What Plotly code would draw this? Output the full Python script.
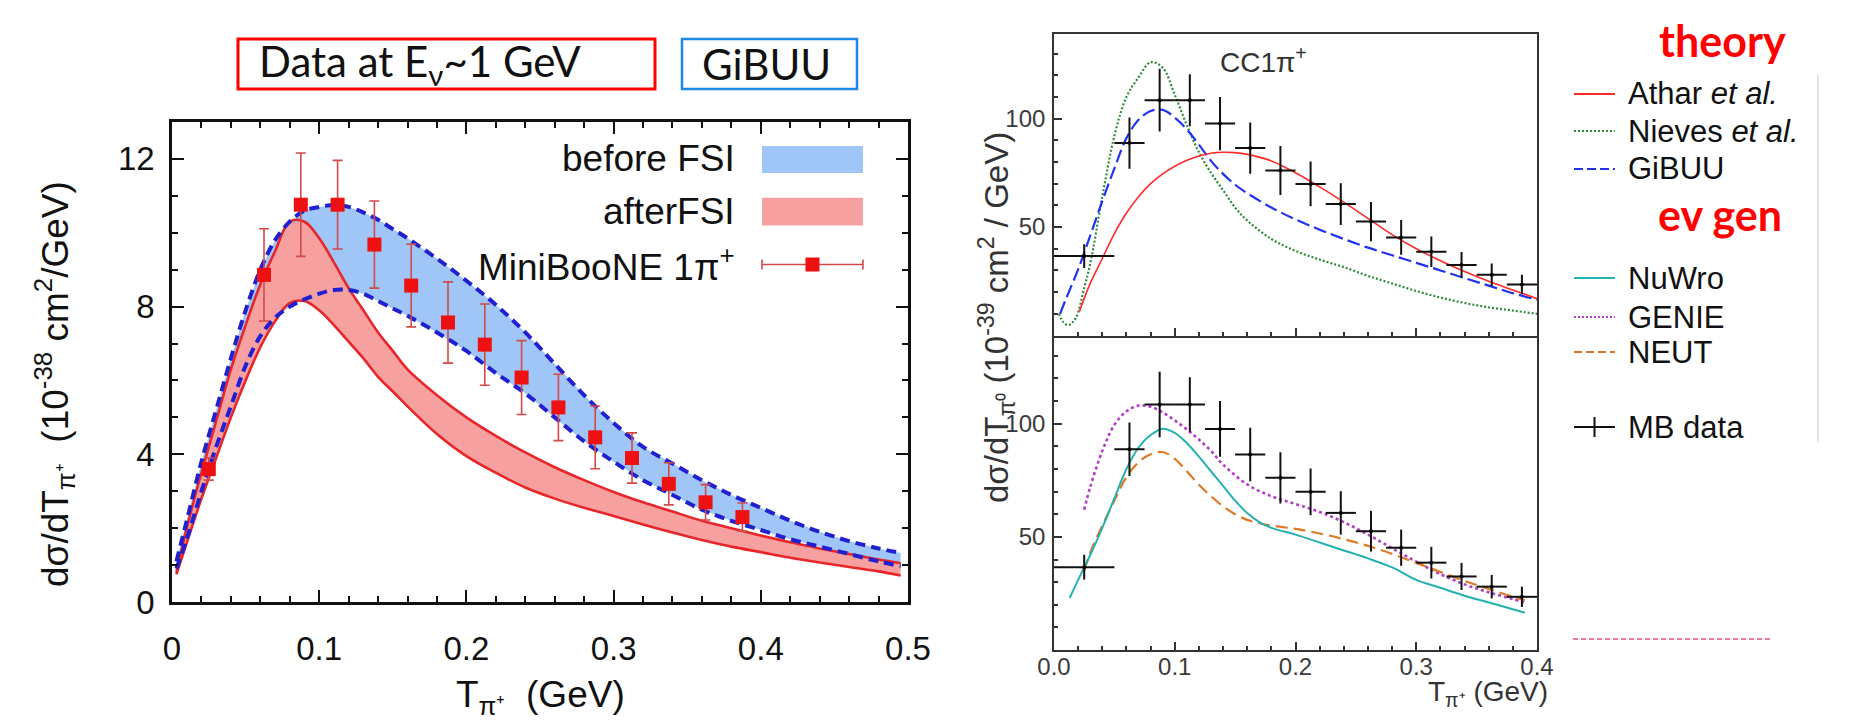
import plotly.graph_objects as go

W, H = 1866, 726
def fx(p): return p / W
def fy(p): return 1 - p / H

# ---------------- Left panel: GiBUU bands vs MiniBooNE (10^-38 cm^2/GeV) ----------------
T_GRID = [0.003, 0.01, 0.02, 0.03, 0.04, 0.05, 0.06, 0.07, 0.08, 0.09, 0.10, 0.11, 0.12,
          0.13, 0.14, 0.15, 0.16, 0.18, 0.20, 0.22, 0.24, 0.26, 0.28, 0.30, 0.32, 0.34,
          0.36, 0.38, 0.40, 0.42, 0.44, 0.46, 0.48, 0.495]
BEFORE_HI = [1.1, 2.2, 3.8, 5.2, 6.6, 7.9, 9.0, 9.8, 10.3, 10.6, 10.7, 10.75, 10.7, 10.55,
             10.35, 10.1, 9.85, 9.3, 8.7, 8.05, 7.3, 6.45, 5.6, 4.85, 4.2, 3.75, 3.3, 2.9,
             2.55, 2.2, 1.9, 1.65, 1.45, 1.33]
BEFORE_LO = [0.9, 1.7, 3.0, 4.2, 5.3, 6.4, 7.2, 7.7, 8.0, 8.2, 8.35, 8.45, 8.45, 8.35,
             8.15, 7.95, 7.75, 7.3, 6.8, 6.2, 5.65, 5.0, 4.35, 3.8, 3.3, 2.9, 2.5, 2.2,
             1.95, 1.7, 1.5, 1.3, 1.1, 0.97]
AFTER_HI = [0.8, 2.0, 3.5, 4.9, 6.3, 7.5, 8.6, 9.5, 10.3, 10.3, 9.85, 9.2, 8.5, 7.9, 7.3,
            6.8, 6.3, 5.6, 5.0, 4.5, 4.05, 3.65, 3.3, 2.98, 2.7, 2.45, 2.2, 2.0, 1.8,
            1.62, 1.45, 1.3, 1.15, 1.05]
AFTER_LO = [0.75, 1.6, 2.8, 3.9, 5.0, 6.0, 6.9, 7.6, 8.1, 8.15, 7.9, 7.5, 7.05, 6.6, 6.1,
            5.7, 5.3, 4.55, 3.95, 3.5, 3.1, 2.8, 2.55, 2.33, 2.1, 1.88, 1.68, 1.5, 1.35,
            1.2, 1.07, 0.95, 0.83, 0.72]

T_MB = [0.025, 0.0625, 0.0875, 0.1125, 0.1375, 0.1625, 0.1875, 0.2125, 0.2375, 0.2625,
        0.2875, 0.3125, 0.3375, 0.3625, 0.3875]
MB_38 = [3.6, 8.86, 10.76, 10.76, 9.68, 8.57, 7.57, 6.97, 6.08, 5.27, 4.46, 3.9, 3.2, 2.7, 2.3]
MB_38_ERR = [0.3, 1.25, 1.4, 1.2, 1.18, 1.12, 1.1, 1.1, 1.0, 0.9, 0.85, 0.68, 0.57, 0.48, 0.38]

# ---------------- Right panels: CC1pi+ models vs MB data (10^-39 cm^2/GeV) ----------------
MB_39 = [36.6, 88.7, 108.5, 108.5, 97.7, 86.4, 76.1, 69.9, 60.6, 52.5, 45.2, 38.6, 32.5, 28.0, 23.5]
MB_39_ERR = [5.5, 11.8, 14.5, 12.0, 12.3, 11.8, 11.3, 10.3, 9.6, 9.0, 8.0, 7.0, 6.0, 5.2, 4.5]
MB_BIN_HALF = [0.025, 0.0125, 0.0125, 0.0125, 0.0125, 0.0125, 0.0125, 0.0125, 0.0125, 0.0125,
               0.0125, 0.0125, 0.0125, 0.0125, 0.0125]

ATHAR_T = [0.021, 0.03, 0.04, 0.05, 0.06, 0.07, 0.08, 0.09, 0.10, 0.11, 0.12, 0.13, 0.14,
           0.15, 0.16, 0.18, 0.20, 0.22, 0.24, 0.26, 0.28, 0.30, 0.32, 0.34, 0.36, 0.38, 0.40]
ATHAR = [11, 24, 35.5, 47, 56.5, 64, 70, 74.5, 78, 80.8, 82.8, 84, 84.5, 84.3, 83.5, 80.5,
         75, 68.5, 61.5, 54, 46.5, 40, 34.5, 29.5, 25, 21, 17]
NIEVES_T = [0.004, 0.008, 0.012, 0.018, 0.025, 0.03, 0.04, 0.05, 0.06, 0.07, 0.08, 0.09,
            0.10, 0.11, 0.12, 0.13, 0.14, 0.15, 0.16, 0.18, 0.20, 0.22, 0.24, 0.26, 0.28,
            0.30, 0.32, 0.34, 0.36, 0.38, 0.40]
NIEVES = [10, 6, 4.8, 8, 22, 33, 64, 92, 110, 119, 126, 123.5, 111, 97, 84.5, 75, 67, 59,
          53, 44.5, 39, 35, 31.5, 27.5, 24, 20.5, 17.5, 15, 13, 11.5, 10]
GIBUU_T = [0.005, 0.01, 0.02, 0.03, 0.04, 0.05, 0.06, 0.07, 0.08, 0.09, 0.10, 0.11, 0.12,
           0.13, 0.14, 0.15, 0.16, 0.18, 0.20, 0.22, 0.24, 0.26, 0.28, 0.30, 0.32, 0.34,
           0.36, 0.38, 0.40]
GIBUU = [10, 17, 30.5, 46, 62, 77, 91, 99.5, 103.5, 104, 100.5, 95, 88, 80.5, 74.5, 69.5,
         65.6, 59, 53.5, 48.8, 44.5, 40.5, 37, 33.5, 30, 26.5, 23, 19.5, 16.5]

NUWRO_T = [0.013, 0.02, 0.03, 0.04, 0.05, 0.06, 0.07, 0.08, 0.09, 0.10, 0.11, 0.12, 0.13,
           0.14, 0.15, 0.16, 0.17, 0.18, 0.20, 0.22, 0.24, 0.26, 0.28, 0.30, 0.32, 0.34,
           0.36, 0.38, 0.39]
NUWRO = [23, 31, 42, 54, 67, 80, 89.5, 95, 97.8, 96, 91.5, 85.5, 79, 72.5, 66, 60.5, 56.5,
         54, 51, 47.5, 44, 40.5, 36.5, 31, 27.5, 24, 21, 18, 16.5]
GENIE_T = [0.025, 0.03, 0.04, 0.05, 0.06, 0.07, 0.08, 0.09, 0.10, 0.11, 0.12, 0.13, 0.14,
           0.16, 0.18, 0.20, 0.22, 0.24, 0.26, 0.28, 0.30, 0.32, 0.34, 0.36, 0.38, 0.39]
GENIE = [62, 72, 88, 99.5, 105.5, 108, 107.5, 105, 101.5, 97.5, 93, 88, 82, 73.2, 68, 64.5,
         61, 56.5, 51, 45, 39, 33.5, 29, 25.5, 22.5, 21]
NEUT_T = [0.025, 0.03, 0.04, 0.05, 0.06, 0.07, 0.08, 0.09, 0.10, 0.11, 0.12, 0.13, 0.14,
          0.15, 0.16, 0.17, 0.18, 0.20, 0.22, 0.24, 0.26, 0.28, 0.30, 0.32, 0.34, 0.36,
          0.38, 0.39]
NEUT = [35, 43, 55, 66, 76.5, 83, 86.5, 87.5, 84.5, 79, 73, 68, 63.5, 60, 57.5, 56, 55,
        53.5, 51.5, 49, 46, 42.5, 38.5, 34.5, 30.5, 27, 23.5, 22]

LEFT_X_TICKS = [0, 0.1, 0.2, 0.3, 0.4, 0.5]
LEFT_X_LABELS = ["0", "0.1", "0.2", "0.3", "0.4", "0.5"]
LEFT_Y_TICKS = [0, 4, 8, 12]
RIGHT_X_TICKS = [0.0, 0.1, 0.2, 0.3, 0.4]
RIGHT_X_LABELS = ["0.0", "0.1", "0.2", "0.3", "0.4"]
RIGHT_Y_TICKS = [50, 100]

# ---------------- styles ----------------
BLUE_FILL = "#9fc6f6"
RED_FILL = "#f6a0a0"
RED_LINE = "#e8262a"
BLUE_DASH = "#2020d0"
SANS = "Liberation Sans, Arial, sans-serif"
GILL = "Lato, Open Sans, sans-serif"

fig = go.Figure()

# Left: bands
fig.add_trace(go.Scatter(x=T_GRID + T_GRID[::-1], y=BEFORE_HI + BEFORE_LO[::-1],
                         fill="toself", fillcolor=BLUE_FILL, line=dict(width=0),
                         mode="lines", xaxis="x", yaxis="y"))
fig.add_trace(go.Scatter(x=T_GRID + T_GRID[::-1], y=AFTER_HI + AFTER_LO[::-1],
                         fill="toself", fillcolor=RED_FILL, line=dict(width=0),
                         mode="lines", xaxis="x", yaxis="y"))
for arr in (AFTER_HI, AFTER_LO):
    fig.add_trace(go.Scatter(x=T_GRID, y=arr, mode="lines",
                             line=dict(color=RED_LINE, width=2.6, shape="spline"),
                             xaxis="x", yaxis="y"))
for arr in (BEFORE_HI, BEFORE_LO):
    fig.add_trace(go.Scatter(x=T_GRID, y=arr, mode="lines",
                             line=dict(color=BLUE_DASH, width=4, dash="10px,6px", shape="spline"),
                             xaxis="x", yaxis="y"))
fig.add_trace(go.Scatter(x=T_MB, y=MB_38, mode="markers",
                         marker=dict(symbol="square", size=14, color="#ee1111"),
                         error_y=dict(type="data", array=MB_38_ERR, color="#d24a4a",
                                      thickness=1.6, width=5),
                         xaxis="x", yaxis="y"))
# legend key for MiniBooNE (left)
fig.add_trace(go.Scatter(x=[0.4351], y=[9.14], mode="markers",
                         marker=dict(symbol="square", size=14, color="#ee1111"),
                         error_x=dict(type="data", array=[0.0343], color="#d24a4a",
                                      thickness=1.6, width=5),
                         xaxis="x", yaxis="y"))

# Right top
for tx, ty, col, dash, wd in ((NIEVES_T, NIEVES, "#2e8b3a", "2px,2px", 2.2),
                              (GIBUU_T, GIBUU, "#2233ee", "13px,5px", 2.2),
                              (ATHAR_T, ATHAR, "#ff2a2a", "solid", 1.6)):
    fig.add_trace(go.Scatter(x=tx, y=ty, mode="lines",
                             line=dict(color=col, width=wd, dash=dash, shape="spline"),
                             xaxis="x2", yaxis="y2"))
# Right bottom
for tx, ty, col, dash, wd in ((GENIE_T, GENIE, "#b43cc8", "3px,3px", 2.6),
                              (NEUT_T, NEUT, "#de7a26", "12px,6px", 2.2),
                              (NUWRO_T, NUWRO, "#24b2b0", "solid", 2.0)):
    fig.add_trace(go.Scatter(x=tx, y=ty, mode="lines",
                             line=dict(color=col, width=wd, dash=dash, shape="spline"),
                             xaxis="x3", yaxis="y3"))
for xa, ya in (("x2", "y2"), ("x3", "y3")):
    fig.add_trace(go.Scatter(x=T_MB, y=MB_39, mode="markers",
                             marker=dict(size=4, color="black"),
                             error_x=dict(type="data", array=MB_BIN_HALF, color="#111",
                                          thickness=2, width=0),
                             error_y=dict(type="data", array=MB_39_ERR, color="#111",
                                          thickness=2, width=0),
                             xaxis=xa, yaxis=ya))

left_tick = dict(family=SANS, size=33, color="#111")
right_tick = dict(family=SANS, size=24, color="#3a3a3a")

fig.update_layout(
    width=W, height=H, margin=dict(l=0, r=0, t=0, b=0, pad=0, autoexpand=False),
    paper_bgcolor="white", plot_bgcolor="white", showlegend=False, hovermode=False,
    xaxis=dict(domain=[fx(172), fx(908)], range=[0, 0.5], tickvals=LEFT_X_TICKS,
               ticktext=LEFT_X_LABELS, ticks="inside", ticklen=12, tickwidth=2,
               tickcolor="#111", showline=True, linewidth=2.5, linecolor="#111",
               mirror="ticks", showgrid=False, zeroline=False, tickfont=left_tick,
               ticklabelstandoff=16, automargin=False,
               minor=dict(dtick=0.02, ticks="inside", ticklen=6, tickwidth=2,
                          tickcolor="#111", showgrid=False),
               anchor="y"),
    yaxis=dict(domain=[fy(602), fy(122)], range=[0, 13], tickvals=LEFT_Y_TICKS,
               ticks="inside", ticklen=12, tickwidth=2, tickcolor="#111",
               showline=True, linewidth=2.5, linecolor="#111", mirror="ticks",
               showgrid=False, zeroline=False, tickfont=left_tick, ticklabelstandoff=8,
               automargin=False,
               minor=dict(dtick=1, ticks="inside", ticklen=6, tickwidth=2,
                          tickcolor="#111", showgrid=False),
               anchor="x"),
    xaxis2=dict(domain=[fx(1054), fx(1537)], range=[0, 0.4], tickvals=RIGHT_X_TICKS,
                showticklabels=False, ticks="inside", ticklen=8, tickwidth=1.5,
                tickcolor="#333", showline=True, linewidth=1.6, linecolor="#333",
                mirror=True, showgrid=False, zeroline=False, automargin=False,
                minor=dict(dtick=0.02, ticks="inside", ticklen=4, tickwidth=1.5,
                           tickcolor="#333", showgrid=False),
                anchor="y2"),
    yaxis2=dict(domain=[fy(335.5), fy(34)], range=[0, 139], tickvals=RIGHT_Y_TICKS,
                ticks="inside", ticklen=8, tickwidth=1.5, tickcolor="#333",
                showline=True, linewidth=1.6, linecolor="#333", mirror=True,
                showgrid=False, zeroline=False, tickfont=right_tick, ticklabelstandoff=2,
                automargin=False,
                minor=dict(dtick=10, ticks="inside", ticklen=4, tickwidth=1.5,
                           tickcolor="#333", showgrid=False),
                anchor="x2"),
    xaxis3=dict(domain=[fx(1054), fx(1537)], range=[0, 0.4], tickvals=RIGHT_X_TICKS,
                ticktext=RIGHT_X_LABELS, ticks="inside", ticklen=8, tickwidth=1.5,
                tickcolor="#333", showline=True, linewidth=1.6, linecolor="#333",
                mirror=False, showgrid=False, zeroline=False, tickfont=right_tick,
                ticklabelstandoff=-6, automargin=False,
                minor=dict(dtick=0.02, ticks="inside", ticklen=4, tickwidth=1.5,
                           tickcolor="#333", showgrid=False),
                anchor="y3"),
    yaxis3=dict(domain=[fy(650), fy(335.5)], range=[0, 139], tickvals=RIGHT_Y_TICKS,
                ticks="inside", ticklen=8, tickwidth=1.5, tickcolor="#333",
                showline=True, linewidth=1.6, linecolor="#333", mirror=True,
                showgrid=False, zeroline=False, tickfont=right_tick, ticklabelstandoff=2,
                automargin=False,
                minor=dict(dtick=10, ticks="inside", ticklen=4, tickwidth=1.5,
                           tickcolor="#333", showgrid=False),
                anchor="x3"),
)

shapes = []
ann = []

# Left legend swatches & texts (data coordinates of left axes)
shapes.append(dict(type="rect", xref="x", yref="y", x0=0.4008, x1=0.4694, y0=11.62, y1=12.35,
                   fillcolor=BLUE_FILL, line=dict(width=0), layer="above"))
shapes.append(dict(type="rect", xref="x", yref="y", x0=0.4008, x1=0.4694, y0=10.2, y1=10.95,
                   fillcolor=RED_FILL, line=dict(width=0), layer="above"))
for txt, yv in (("before FSI", 12.0), ("afterFSI", 10.58), ("MiniBooNE 1π<sup>+</sup>", 9.14)):
    ann.append(dict(text=txt, xref="x", yref="y", x=0.3838, y=yv, xanchor="right",
                    yanchor="middle", showarrow=False,
                    font=dict(family=SANS, size=37, color="#111")))

# Left axis titles
ann.append(dict(text="T<sub>π⁺</sub>  (GeV)", xref="paper", yref="paper", x=fx(540), y=fy(697),
                xanchor="center", yanchor="middle", showarrow=False,
                font=dict(family=SANS, size=37, color="#111")))
ann.append(dict(text="dσ/dT<sub>π⁺</sub>  (10<sup>-38</sup> cm<sup>2</sup>/GeV)",
                xref="paper", yref="paper", x=fx(54), y=fy(384), textangle=-90,
                xanchor="center", yanchor="middle", showarrow=False,
                font=dict(family=SANS, size=37, color="#111")))

# Right axis titles and label
ann.append(dict(text="dσ/dT<sub>π⁰</sub> (10<sup>-39</sup> cm<sup>2</sup> / GeV)",
                xref="paper", yref="paper", x=fx(996), y=fy(318), textangle=-90,
                xanchor="center", yanchor="middle", showarrow=False,
                font=dict(family=SANS, size=33, color="#333")))
ann.append(dict(text="T<sub>π⁺</sub> (GeV)", xref="paper", yref="paper", x=fx(1550), y=fy(693),
                xanchor="right", yanchor="middle", showarrow=False,
                font=dict(family=SANS, size=28, color="#333")))
ann.append(dict(text="CC1π<sup>+</sup>", xref="paper", yref="paper", x=fx(1263), y=fy(60),
                xanchor="center", yanchor="middle", showarrow=False,
                font=dict(family=SANS, size=28, color="#333")))

# Top boxes
shapes.append(dict(type="rect", xref="paper", yref="paper", x0=fx(238), x1=fx(655),
                   y0=fy(89), y1=fy(39), line=dict(color="#ff0000", width=3)))
shapes.append(dict(type="rect", xref="paper", yref="paper", x0=fx(682), x1=fx(857),
                   y0=fy(89), y1=fy(39), line=dict(color="#1e88e5", width=2.5)))
ann.append(dict(text="Data at E<sub>ν</sub>~1 GeV", xref="paper", yref="paper", x=fx(257),
                y=fy(64), xanchor="left", yanchor="middle", showarrow=False,
                font=dict(family=GILL, size=42, color="#111")))
ann.append(dict(text="GiBUU", xref="paper", yref="paper", x=fx(700),
                y=fy(64), xanchor="left", yanchor="middle", showarrow=False,
                font=dict(family=GILL, size=42, color="#111")))

# Right legend
ann.append(dict(text="<b>theory</b>", xref="paper", yref="paper", x=fx(1722), y=fy(40),
                xanchor="center", yanchor="middle", showarrow=False,
                font=dict(family=GILL, size=43, color="#ff0000")))
ann.append(dict(text="<b>ev gen</b>", xref="paper", yref="paper", x=fx(1720), y=fy(214),
                xanchor="center", yanchor="middle", showarrow=False,
                font=dict(family=GILL, size=43, color="#ff0000")))
legend_items = [("Athar <i>et al.</i>", 94, "#ff2a2a", "solid"),
                ("Nieves <i>et al.</i>", 131, "#2e8b3a", "2px,2px"),
                ("GiBUU", 169, "#2233ee", "9px,4px"),
                ("NuWro", 278, "#24b2b0", "solid"),
                ("GENIE", 317, "#b43cc8", "2px,2px"),
                ("NEUT", 352, "#de7a26", "8px,4px"),
                ("MB data", 427, "#111111", "solid")]
for txt, yp, col, dash in legend_items:
    shapes.append(dict(type="line", xref="paper", yref="paper", x0=fx(1574), x1=fx(1615),
                       y0=fy(yp), y1=fy(yp), line=dict(color=col, width=2, dash=dash)))
    ann.append(dict(text=txt, xref="paper", yref="paper", x=fx(1626), y=fy(yp),
                    xanchor="left", yanchor="middle", showarrow=False,
                    font=dict(family=SANS, size=31, color="#111")))
shapes.append(dict(type="line", xref="paper", yref="paper", x0=fx(1594.5), x1=fx(1594.5),
                   y0=fy(417), y1=fy(437), line=dict(color="#111", width=2)))
shapes.append(dict(type="line", xref="paper", yref="paper", x0=fx(1818), x1=fx(1818),
                   y0=fy(75), y1=fy(442), line=dict(color="#c8c8c8", width=1)))
shapes.append(dict(type="line", xref="paper", yref="paper", x0=fx(1573), x1=fx(1771),
                   y0=fy(639), y1=fy(639), line=dict(color="#e0507a", width=1.5, dash="5px,3px")))

fig.update_layout(shapes=shapes, annotations=ann)
fig.write_html("out.html")
